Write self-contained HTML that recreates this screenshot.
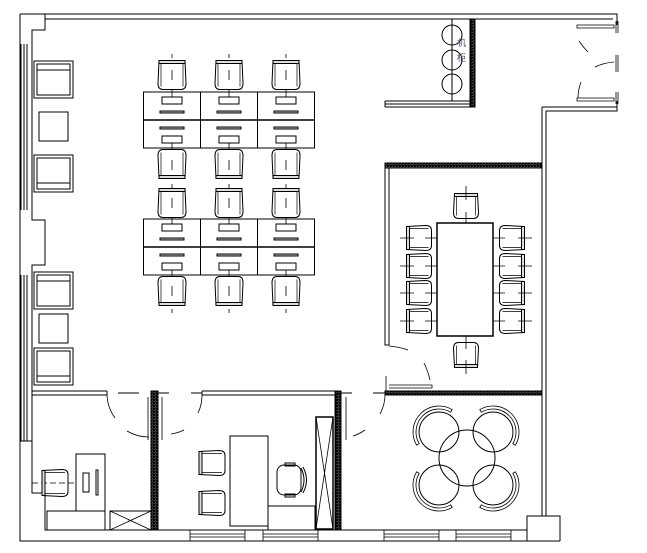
<!DOCTYPE html>
<html><head><meta charset="utf-8"><style>
html,body{margin:0;padding:0;background:#fff;width:647px;height:553px;overflow:hidden}
svg{display:block}
</style></head><body>
<svg id="s" width="647" height="553" viewBox="0 0 647 553" xmlns="http://www.w3.org/2000/svg" fill="none" stroke="#000" stroke-width="1">
<defs>
<pattern id="h" width="3" height="3" patternUnits="userSpaceOnUse"><rect width="3" height="3" fill="#999"/><rect width="1.5" height="1.5" fill="#444"/></pattern>
</defs>
<!-- outer walls -->
<path d="M45,14 H617 V25 M45,19 H613"/>
<path d="M20,14 H45 V30 H32 V44 M20,14 V541 H527 V516 H560 V541 M527,541"/>
<path d="M21,44 V210 M24,44 V210 M27,44 V210 M32,44 V210 M32,210 V220 H45 V265 H32 V275 M21,275 V441 M24,275 V441 M27,275 V441 M32,275 V441 M20,441 H32 V493 H45 V530 H527"/>
<path d="M20,541 H560"/>
<!-- bottom windows -->
<g stroke-width="0.8">
<path d="M190,530 V541 M245,530 V541 M190,534 H245 M190,537 H245"/>
<path d="M263,530 V541 M318,530 V541 M263,534 H318 M263,537 H318"/>
<path d="M384,530 V541 M439,530 V541 M384,534 H439 M384,537 H439"/>
<path d="M456,530 V541 M511,530 V541 M456,534 H511 M456,537 H511"/>
</g>
<!-- right walls -->
<path d="M617,101 V111 H546 V516 M542,107 H617 M542,107 V516"/>
<!-- entrance -->
<path d="M577,25 H614 V28 H577 Z M577,98 H614 V101 H577 Z" stroke-width="0.8"/>
<path d="M616,21 V33 M616,55 V72 M616,92 V104 M618,21 V33 M618,55 V72 M618,92 V104" stroke-width="0.8"/>
<path d="M579,41 Q583,47 588,52 M595,67 Q603,63 614,62 M578,98 Q578,90 581,82" stroke-width="0.8"/>
<!-- server closet -->
<rect x="470" y="19" width="5" height="88" fill="url(#h)"/>
<path d="M385,101 H470 M385,104 H470 M385,107 H475 M385,101 V107"/>
<path d="M452,19 V101"/>
<circle cx="452" cy="35" r="10"/><circle cx="452" cy="60" r="10"/><circle cx="452" cy="84" r="10"/>
<text x="457" y="46" font-family="Liberation Sans,Noto Sans CJK SC,sans-serif" font-size="9" fill="#446" stroke="none">机</text>
<text x="457" y="61" font-family="Liberation Sans,Noto Sans CJK SC,sans-serif" font-size="9" fill="#446" stroke="none">柜</text>
<!-- conference room walls -->
<rect x="385" y="163" width="156" height="5" fill="url(#h)"/>
<path d="M385,168 V345 H389 V168"/>
<rect x="385" y="391" width="157" height="4" fill="url(#h)"/>
<path d="M386,376 V391 M389,385 H432 V388 H389" stroke-width="0.8"/>
<path d="M389,346 Q400,347 408,350 M424,363 Q428,371 430,380" stroke-width="0.8"/>
<rect x="437" y="223" width="56" height="113" stroke-width="1.5"/>
<!-- partition line -->
<path d="M32,391 H107 M32,395 H107 M107,391 V395 M118,393 H139 M158,393 H169 M191,393 H202"/>
<path d="M202,391 H335 M202,395 H335 M202,391 V395 M341,393 H352 M373,393 H385"/>
<rect x="151" y="391" width="7" height="139" fill="url(#h)"/>
<rect x="335" y="391" width="6" height="139" fill="url(#h)"/>
<path d="M148,397 V440 M339,397 V440 M346,397 V440 M162,397 V440" stroke-width="0.8"/>
<!-- door arcs -->
<g stroke-width="0.8">
<path d="M107,393 A42,42 0 0 0 115,418"/><path d="M127,431 A42,42 0 0 0 149,437"/>
<path d="M202,393 A42,42 0 0 1 198,413"/><path d="M184,430 A42,42 0 0 1 171,434"/>
<path d="M385,393 A42,42 0 0 1 380,414"/><path d="M365,430 A42,42 0 0 1 353,436"/>
</g>
<!-- left office -->
<rect x="76" y="454" width="29" height="57"/>
<rect x="47" y="511" width="58" height="19"/>
<rect x="83" y="473" width="6" height="19"/>
<rect x="96" y="470" width="2" height="25"/>
<rect x="110" y="511" width="41" height="19"/>
<path d="M110,511 L151,530 M151,511 L110,530" stroke-width="0.8"/>
<path d="M32,483 H76" stroke-dasharray="6,3" stroke-width="0.8"/>
<!-- middle office -->
<rect x="230" y="436" width="38" height="90"/>
<rect x="268" y="506" width="47" height="24"/>
<rect x="316" y="417" width="17" height="112" stroke-width="1.5"/>
<path d="M316,417 L333,529 M333,417 L316,529" stroke-width="0.8"/>
<!-- lounge -->
<circle cx="467" cy="458" r="28"/>
<g id="g"></g>
</svg>
<script>
var g=document.getElementById('g'),h='';
function chair(x,y,w,d,rot){
 var p='<g transform="translate('+x+','+y+') rotate('+rot+')">';
 var hw=w/2,hd=d/2;
 p+='<rect x="'+(-hw+1)+'" y="'+(-hd)+'" width="'+(w-2)+'" height="3" fill="#ddd"/>';
 p+='<path d="M'+(-hw+1)+','+(-hd)+' L'+(-hw)+','+(hd-6)+' Q'+(-hw)+','+hd+' '+(-hw+5)+','+hd+' H'+(hw-5)+' Q'+hw+','+hd+' '+hw+','+(hd-6)+' L'+(hw-1)+','+(-hd)+'"/>';
 p+='<path d="M'+(-hw+3)+','+(-hd+3)+' L'+(-hw+3)+','+(hd-3)+' M'+(hw-3)+','+(-hd+3)+' L'+(hw-3)+','+(hd-3)+'" stroke-width="0.7"/>';
 p+='</g>';return p;}
var cols=[172,229,286];
cols.forEach(function(cx){
 h+=chair(cx,75,28,29,0)+chair(cx,164,28,29,180)+chair(cx,203,28,29,0)+chair(cx,291,28,29,180);
 h+='<path d="M'+cx+',54 V58 M'+cx+',70 V80 M'+cx+',160 V170 M'+cx+',184 V188 M'+cx+',198 V208 M'+cx+',286 V296 M'+cx+',309 V313" stroke-width="0.8"/>';
 [92,219].forEach(function(y){
  h+='<rect x="'+(cx-28.5)+'" y="'+y+'" width="57" height="28"/><rect x="'+(cx-28.5)+'" y="'+(y+28)+'" width="57" height="28"/>';
  h+='<rect x="'+(cx-10)+'" y="'+(y+5)+'" width="20" height="7"/><rect x="'+(cx-12)+'" y="'+(y+19)+'" width="24" height="2" fill="#bbb"/>';
  h+='<rect x="'+(cx-12)+'" y="'+(y+35)+'" width="24" height="2" fill="#bbb"/><rect x="'+(cx-10)+'" y="'+(y+44)+'" width="20" height="7"/>';
  h+='<path d="M'+cx+','+(y-2)+' V'+(y+5)+' M'+cx+','+(y+51)+' V'+(y+58)+'" stroke-width="0.8"/>';
 });
});
h+='<path d="M144,120 H315 M144,247 H315" stroke-width="1.5"/>';
function arm(y,flip){var s='<rect x="34" y="'+y+'" width="39" height="37"/><rect x="37" y="'+(y+3)+'" width="33" height="31"/>';
 s+= flip? '<path d="M37,'+(y+28)+' H70"/>' : '<path d="M37,'+(y+9)+' H70"/>'; return s;}
h+=arm(61,0)+'<rect x="39" y="112" width="29" height="29"/>'+arm(155,1);
h+=arm(272,0)+'<rect x="39" y="314" width="29" height="29"/>'+arm(348,1);
h+=chair(466,206,25,25,0)+chair(466,355,25,25,180);
[238,266,293,321].forEach(function(y){
 h+=chair(419,y,25,25,-90)+chair(512,y,25,25,90);
 h+='<path d="M400,'+y+' H414 M425,'+y+' H437 M493,'+y+' H505 M518,'+y+' H532" stroke-width="0.8"/>';
});
h+='<path d="M466,186 V200 M466,212 V223 M466,336 V349 M466,360 V374" stroke-width="0.8"/>';
h+=chair(55,483,27,26,-90);
h+=chair(212,463,25,26,-90)+chair(212,503,25,26,-90);
h+='<g transform="translate(290,480)"><rect x="-13" y="-15" width="24" height="30" rx="7"/><path d="M11,-12 Q17,0 11,12" /><path d="M13,-13 Q20,0 13,13"/><rect x="-5" y="-17" width="10" height="3"/><rect x="-5" y="14" width="10" height="3"/></g>';
[[439,432,225],[493,432,315],[439,485,135],[493,485,45]].forEach(function(c){
 h+='<circle cx="'+c[0]+'" cy="'+c[1]+'" r="20"/>';
 var a=c[2]*Math.PI/180, r1=23,r2=26, s=Math.PI*0.42;
 function pt(r,t){return (c[0]+r*Math.cos(t)).toFixed(1)+','+(c[1]+r*Math.sin(t)).toFixed(1);}
 h+='<path d="M'+pt(r1,a-s)+' A'+r1+','+r1+' 0 0 1 '+pt(r1,a+s)+' L'+pt(r2,a+s)+' A'+r2+','+r2+' 0 0 0 '+pt(r2,a-s)+' Z" stroke-width="0.8"/>';
});
g.innerHTML=h;
</script>
</body></html>
